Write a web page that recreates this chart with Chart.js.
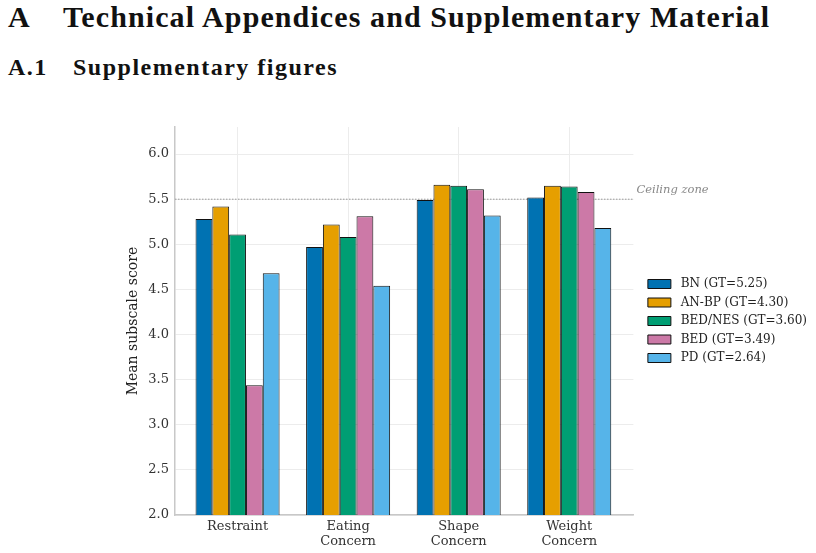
<!DOCTYPE html>
<html>
<head>
<meta charset="utf-8">
<script src="https://cdn.jsdelivr.net/npm/chart.js@4.4.1/dist/chart.umd.min.js"></script>
<style>
  body { margin: 0; width: 816px; height: 553px; background: #fff; overflow: hidden; position: relative; }
  .h1, .h2 { position: absolute; left: 8px; margin: 0; font-family: "Liberation Serif", serif; font-weight: bold; color: #111; white-space: nowrap; }
  .h1 { top: 0px; font-size: 30px; letter-spacing: 1.1px; }
  .h2 { top: 54px; font-size: 24px; letter-spacing: 1.5px; }
  .num { display: inline-block; }
  .h1 .num { width: 55px; }
  .h2 .num { width: 65px; }
  #wrap { position: absolute; left: 0; top: 100px; width: 816px; height: 453px; }
</style>
</head>
<body>
<div class="h1"><span class="num">A</span>Technical Appendices and Supplementary Material</div>
<div class="h2"><span class="num">A.1</span>Supplementary figures</div>
<div id="wrap"><canvas id="chart"></canvas></div>
<script>
// categories (x) and the five groups
const categories = [["Restraint"], ["Eating", "Concern"], ["Shape", "Concern"], ["Weight", "Concern"]];
const groups = ["BN (GT=5.25)", "AN-BP (GT=4.30)", "BED/NES (GT=3.60)", "BED (GT=3.49)", "PD (GT=2.64)"];
const colors = ["#0072B2", "#E69F00", "#009E73", "#CC79A7", "#56B4E9"];

// mean subscale scores
const bn = [5.28, 4.97, 5.49, 5.52];
const anbp = [5.42, 5.22, 5.66, 5.65];
const bednes = [5.11, 5.08, 5.65, 5.64];
const bed = [3.44, 5.31, 5.61, 5.58];
const pd = [4.68, 4.54, 5.32, 5.18];

const yTicks = [2.0, 2.5, 3.0, 3.5, 4.0, 4.5, 5.0, 5.5, 6.0];
const ceiling = 5.5;

const series = [bn, anbp, bednes, bed, pd];
const serif = "'DejaVu Serif', serif";

const ceilingPlugin = {
  id: "ceiling",
  afterLayout(chart) {
    // nudge the legend: a bit right of the plot and centred higher
    const lg = chart.legend;
    lg.left += 8;
    lg.right += 8;
    lg.bottom -= 38;
  },
  beforeDatasetsDraw(chart) {
    const { ctx, chartArea, scales } = chart;
    const y = scales.y.getPixelForValue(ceiling);
    ctx.save();
    ctx.strokeStyle = "#999";
    ctx.lineWidth = 1;
    ctx.setLineDash([1.5, 1.5]);
    ctx.beginPath();
    ctx.moveTo(chartArea.left, y);
    ctx.lineTo(chartArea.right, y);
    ctx.stroke();
    ctx.restore();
  },
  afterDraw(chart) {
    const { ctx, chartArea, scales } = chart;
    const y = scales.y.getPixelForValue(ceiling);
    ctx.save();
    ctx.fillStyle = "#888";
    ctx.font = "italic 11.5px " + serif;
    ctx.textBaseline = "middle";
    ctx.fillText("Ceiling zone", chartArea.right + 3, y - 9);
    ctx.restore();
  }
};

const baseLabels = Chart.defaults.plugins.legend.labels.generateLabels;

new Chart(document.getElementById("chart"), {
  type: "bar",
  data: {
    datasets: series.map((vals, k) => ({
      label: groups[k],
      data: vals.map((v, i) => ({ x: i, y: v })),
      backgroundColor: colors[k],
      borderColor: "#111",
      borderWidth: 1,
      barPercentage: 1,
      categoryPercentage: 0.76
    }))
  },
  options: {
    responsive: true,
    maintainAspectRatio: false,
    animation: false,
    layout: { padding: { top: 27, left: 124.5, right: 13, bottom: 0 } },
    plugins: {
      legend: {
        position: "right",
        labels: {
          font: { family: serif, size: 12 },
          color: "#222",
          boxWidth: 23,
          boxHeight: 9,
          padding: 6.5,
          generateLabels: (chart) => baseLabels(chart).map((l) => ({ ...l, text: " " + l.text }))
        }
      },
      tooltip: { enabled: false }
    },
    scales: {
      x: {
        type: "linear",
        offset: false,
        min: -0.566,
        max: 3.58,
        afterBuildTicks: (s) => { s.ticks = categories.map((c, i) => ({ value: i })); },
        ticks: {
          callback: (v) => categories[v],
          font: { family: serif, size: 13, lineHeight: 1.15 },
          color: "#333",
          padding: 4,
          maxRotation: 0
        },
        grid: { color: "#ececec", drawTicks: false, offset: false },
        border: { color: "#c8c8c8", width: 1.5 }
      },
      y: {
        min: 2,
        max: 6.3,
        afterBuildTicks: (s) => { s.ticks = yTicks.map((v) => ({ value: v })); },
        ticks: {
          callback: (v) => v.toFixed(1),
          font: { family: serif, size: 13 },
          color: "#333",
          padding: 6
        },
        grid: { color: "#ececec", drawTicks: false },
        border: { color: "#c8c8c8", width: 1.5 },
        title: {
          display: true,
          text: "Mean subscale score",
          font: { family: serif, size: 14 },
          color: "#222",
          padding: { top: 0, bottom: 1 }
        }
      }
    }
  },
  plugins: [ceilingPlugin]
});
</script>
</body>
</html>
